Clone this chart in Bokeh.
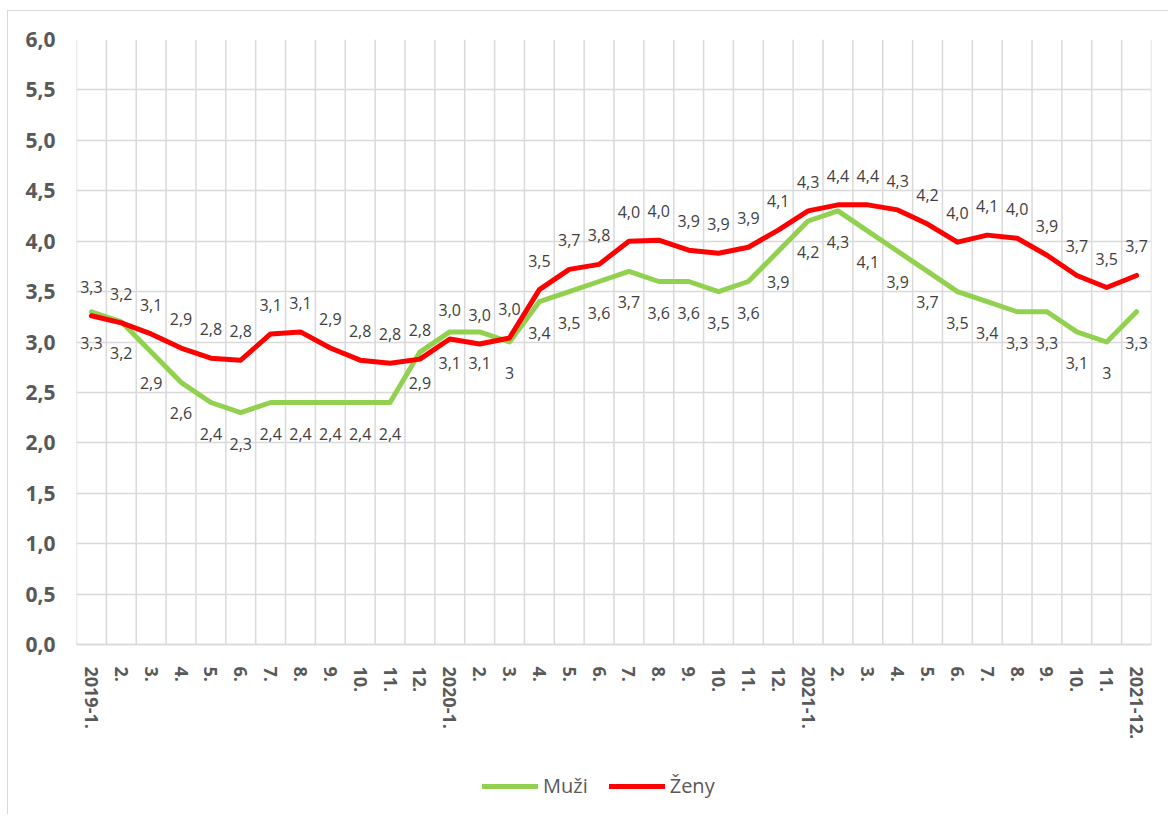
from bokeh.plotting import figure
from bokeh.models import FixedTicker, Legend, LegendItem, Range1d
from bokeh.embed import file_html
from bokeh.resources import INLINE
from bokeh.core.properties import value

months = ["2019-1.", "2.", "3.", "4.", "5.", "6.", "7.", "8.", "9.", "10.", "11.", "12.",
          "2020-1.", "2.", "3.", "4.", "5.", "6.", "7.", "8.", "9.", "10.", "11.", "12.",
          "2021-1.", "2.", "3.", "4.", "5.", "6.", "7.", "8.", "9.", "10.", "11.", "2021-12."]

muzi = [3.3, 3.2, 2.9, 2.6, 2.4, 2.3, 2.4, 2.4, 2.4, 2.4, 2.4, 2.9,
        3.1, 3.1, 3.0, 3.4, 3.5, 3.6, 3.7, 3.6, 3.6, 3.5, 3.6, 3.9,
        4.2, 4.3, 4.1, 3.9, 3.7, 3.5, 3.4, 3.3, 3.3, 3.1, 3.0, 3.3]

zeny = [3.26, 3.19, 3.08, 2.94, 2.84, 2.82, 3.08, 3.10, 2.94, 2.82, 2.79, 2.83,
        3.03, 2.98, 3.04, 3.52, 3.72, 3.77, 4.00, 4.01, 3.91, 3.88, 3.94, 4.11,
        4.30, 4.36, 4.36, 4.31, 4.17, 3.99, 4.06, 4.03, 3.86, 3.66, 3.54, 3.66]

y_ticks = [0.0, 0.5, 1.0, 1.5, 2.0, 2.5, 3.0, 3.5, 4.0, 4.5, 5.0, 5.5, 6.0]

series_names = ["Muži", "Ženy"]

x = list(range(len(months)))
muzi_labels = [f"{v:g}".replace(".", ",") for v in muzi]
zeny_labels = [f"{v:.1f}".replace(".", ",") for v in zeny]

GRID = "#d9d9d9"
AXIS_TEXT = "#595959"
LABEL_TEXT = "#404040"

# the frame extends below the value axis to hold the category labels and legend
PLOT_H = 605
EXTRA_H = 170
Y_MIN, Y_MAX = y_ticks[0], y_ticks[-1]
y_start = Y_MIN - EXTRA_H * (Y_MAX - Y_MIN) / PLOT_H

p = figure(frame_width=1075, frame_height=PLOT_H + EXTRA_H,
           x_range=Range1d(-0.5, len(months) - 0.5), y_range=Range1d(y_start, Y_MAX),
           output_backend="svg", toolbar_location=None,
           min_border_left=68, min_border_right=17, min_border_top=28, min_border_bottom=0,
           background_fill_color="white", border_fill_color="white")
p.styles = {"margin-left": "7px", "margin-top": "10px",
            "border-left": "1.5px solid #d9d9d9", "border-top": "1.5px solid #d9d9d9"}
p.outline_line_color = None

# grids: horizontal via the grid, vertical category separators limited to the value range
p.xgrid.visible = False
p.ygrid.ticker = FixedTicker(ticks=y_ticks)
p.ygrid.grid_line_color = GRID
p.ygrid.grid_line_width = 1.5
bounds = [i - 0.5 for i in range(len(months) + 1)]
p.segment(x0=bounds, y0=[Y_MIN] * len(bounds), x1=bounds, y1=[Y_MAX] * len(bounds),
          line_color=GRID, line_width=1.5)

# x axis placed at value 0
p.xaxis.fixed_location = Y_MIN
p.xaxis.ticker = FixedTicker(ticks=x)
p.xaxis.major_label_overrides = {i: m for i, m in enumerate(months)}
p.xaxis.major_label_orientation = "vertical"
p.xaxis.major_tick_line_color = None
p.xaxis.minor_tick_line_color = None
p.xaxis.major_tick_out = 0
p.xaxis.major_label_standoff = 22
p.xaxis.axis_line_color = GRID
p.xaxis.axis_line_width = 1.5
p.xaxis.major_label_text_font = "Open Sans"
p.xaxis.major_label_text_font_style = "bold"
p.xaxis.major_label_text_font_size = "18px"
p.xaxis.major_label_text_color = AXIS_TEXT

# y axis
p.yaxis.ticker = FixedTicker(ticks=y_ticks)
p.yaxis.major_label_overrides = {t: f"{t:.1f}".replace(".", ",") for t in y_ticks}
p.yaxis.major_tick_line_color = None
p.yaxis.minor_tick_line_color = None
p.yaxis.major_tick_out = 0
p.yaxis.major_label_standoff = 21
p.yaxis.axis_line_color = None
p.yaxis.major_label_text_font = "Open Sans"
p.yaxis.major_label_text_font_style = "bold"
p.yaxis.major_label_text_font_size = "21px"
p.yaxis.major_label_text_color = AXIS_TEXT

g = p.line(x, muzi, line_color="#92D050", line_width=5, line_join="round", line_cap="round")
r = p.line(x, zeny, line_color="#FF0000", line_width=5, line_join="round", line_cap="round")

p.text(x, zeny, text=zeny_labels, y_offset=-29, text_align="center", text_baseline="middle",
       text_font=value("Open Sans"), text_font_size="16px", text_color=LABEL_TEXT)
p.text(x, muzi, text=muzi_labels, y_offset=31, text_align="center", text_baseline="middle",
       text_font=value("Open Sans"), text_font_size="16px", text_color=LABEL_TEXT)

legend = Legend(items=[LegendItem(label=series_names[0], renderers=[g]),
                       LegendItem(label=series_names[1], renderers=[r])],
                orientation="horizontal", location=(406, 15),
                glyph_width=56, glyph_height=20, label_standoff=5, spacing=21,
                padding=0, margin=0, border_line_color=None, background_fill_alpha=0,
                label_text_font="Open Sans", label_text_font_size="20px",
                label_text_color=AXIS_TEXT)
p.add_layout(legend, "center")

open("out.html", "w").write(file_html(p, INLINE))
